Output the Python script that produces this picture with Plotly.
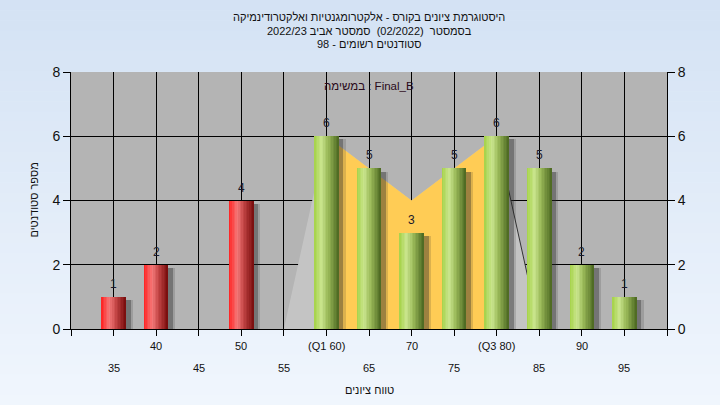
import plotly.graph_objects as go

# ---------------- data ----------------
scores = [35, 40, 45, 50, 55, 60, 65, 70, 75, 80, 85, 90, 95]
counts = [1, 2, 0, 4, 0, 6, 5, 3, 5, 6, 5, 2, 1]
tick_labels = ["35", "40", "45", "50", "55", "(Q1 60)", "65", "70", "75",
               "(Q3 80)", "85", "90", "95"]
pass_mark = 56

# interquartile (yellow) band and overall range (light grey) polygon
iqr_x = [60, 70, 80]
iqr_y = [6, 4, 6]
range_x = [55, 60, 70, 80, 85]
range_y = [0, 6, 4, 6, 0]
edge_x = [80, 85]
edge_y = [6, 0]

title_lines = [
    "היסטוגרמת ציונים בקורס - אלקטרומגנטיות ואלקטרודינמיקה",
    "בסמסטר  (02/2022)  סמסטר אביב 2022/23",
    "סטודנטים רשומים - 98",
]
task_label = "במשימה : Final_B"
x_title = "טווח ציונים"
y_title = "מספר סטודנטים"

# ---------------- styling helpers ----------------
W, H = 720, 405
ML, MR, MT, MB = 71, 53, 72, 76
FONT = "Liberation Sans, Arial, sans-serif"


def hex2rgb(h):
    h = h.lstrip("#")
    return tuple(int(h[i:i + 2], 16) for i in (0, 2, 4))


def interp(stops, t):
    for (p0, c0), (p1, c1) in zip(stops, stops[1:]):
        if p0 <= t <= p1:
            f = (t - p0) / (p1 - p0) if p1 > p0 else 0
            a, b = hex2rgb(c0), hex2rgb(c1)
            return "rgb(%d,%d,%d)" % tuple(round(a[k] + (b[k] - a[k]) * f) for k in range(3))
    return stops[-1][1]


green_stops = [(0.0, "#A4D246"), (0.3, "#CAE58F"), (0.55, "#9CBB5A"), (1.0, "#4A6620")]
red_stops = [(0.0, "#FF1E1E"), (0.33, "#F47A7A"), (0.6, "#C24444"), (1.0, "#760A0A")]

fig = go.Figure()

# ---- main subplot (x, y): area shading, drawn beneath the bars ----
fig.add_trace(go.Scatter(x=range_x, y=range_y, fill="toself", mode="lines",
                         line=dict(width=0), fillcolor="#C4C4C4",
                         hoverinfo="skip", showlegend=False))
fig.add_trace(go.Scatter(x=iqr_x, y=iqr_y, fill="tozeroy", mode="lines",
                         line=dict(width=0), fillcolor="#FFCC55",
                         hoverinfo="skip", showlegend=False))
fig.add_trace(go.Scatter(x=edge_x, y=edge_y, mode="lines",
                         line=dict(width=1, color="#333333"),
                         hoverinfo="skip", showlegend=False))

# ---- overlay subplot (x, y2): bars ----
BW = 2.9  # bar width in x units
for dx, col in [(0.8, "rgba(40,40,40,0.16)"), (0.55, "rgba(40,40,40,0.35)")]:
    fig.add_trace(go.Bar(x=scores, y=[max(c - 0.1, 0) for c in counts], yaxis="y2",
                         width=BW, offset=-BW / 2 + dx,
                         marker=dict(color=col, line=dict(width=0)),
                         hoverinfo="skip", showlegend=False))

N = 16
for i in range(N):
    t = (i + 0.5) / N
    cols = [interp(red_stops, t) if s < pass_mark else interp(green_stops, t) for s in scores]
    wid = BW / N * (1.3 if i < N - 1 else 1.0)
    fig.add_trace(go.Bar(x=scores, y=counts, yaxis="y2", width=wid,
                         offset=-BW / 2 + i * BW / N,
                         marker=dict(color=cols, line=dict(width=0)),
                         hoverinfo="skip", showlegend=False))

# ---------------- background gradient (paper) ----------------
shapes = []
pw, ph = W - ML - MR, H - MT - MB
x0p, x1p = -ML / pw, 1 + MR / pw
y0p, y1p = -MB / ph, 1 + MT / ph
NB = 40
top, bot = hex2rgb("#D4E2F4"), hex2rgb("#F0F6FD")
for k in range(NB):
    f = k / (NB - 1)
    c = "rgb(%d,%d,%d)" % tuple(round(top[j] + (bot[j] - top[j]) * f) for j in range(3))
    ya = y1p - (y1p - y0p) * k / NB
    yb = y1p - (y1p - y0p) * (k + 1) / NB
    shapes.append(dict(type="rect", xref="paper", yref="paper", x0=x0p, x1=x1p,
                       y0=yb - 0.002, y1=ya, fillcolor=c, line=dict(width=0), layer="below"))
shapes.append(dict(type="rect", xref="paper", yref="paper", x0=0, x1=1, y0=0, y1=1,
                   fillcolor="#B4B4B4", line=dict(width=0), layer="below"))

# ---------------- annotations ----------------
ann = []
for s, c in zip(scores, counts):
    if c > 0:
        ann.append(dict(x=s, y=c, xref="x", yref="y", text=str(c), showarrow=False,
                        yanchor="middle", yshift=13,
                        font=dict(size=12, color="#1a1a2a", family=FONT)))
for i, (s, lab) in enumerate(zip(scores, tick_labels)):
    ann.append(dict(x=s, y=0, xref="x", yref="paper", text=lab, showarrow=False,
                    yanchor="middle", yshift=-17 if i % 2 == 1 else -39,
                    font=dict(size=11, color="#111111", family=FONT)))
ann.append(dict(x=0.5, y=0, xref="paper", yref="paper", text=x_title, showarrow=False,
                yanchor="middle", yshift=-61, font=dict(size=11, color="#111111", family=FONT)))
ann.append(dict(x=0, y=0.5, xref="paper", yref="paper", text=y_title, showarrow=False,
                textangle=-90, xanchor="center", yanchor="middle", xshift=-38,
                font=dict(size=11, color="#111111", family=FONT)))
for j, line in enumerate(title_lines):
    ann.append(dict(x=0.5, y=1, xref="paper", yref="paper", text=line, showarrow=False,
                    yanchor="middle", yshift=55 - j * 13.5,
                    font=dict(size=11, color="#111111", family=FONT)))
ann.append(dict(x=0.5, y=1, xref="paper", yref="paper", text=task_label, showarrow=False,
                yanchor="middle", yshift=-14, font=dict(size=11.5, color="#2a0a1a", family=FONT)))

axis_common = dict(showline=True, linecolor="black", linewidth=1, ticks="outside",
                   tickcolor="black", zeroline=False)

fig.update_layout(
    width=W, height=H,
    margin=dict(l=ML, r=MR, t=MT, b=MB, pad=0),
    paper_bgcolor="#EEF4FC",
    plot_bgcolor="rgba(0,0,0,0)",
    barmode="overlay",
    bargap=0,
    showlegend=False,
    font=dict(family=FONT, color="#111111"),
    xaxis=dict(range=[30, 100], tickvals=list(range(30, 101, 5)), showticklabels=False,
               ticklen=6, showgrid=True, gridcolor="black", gridwidth=1, **axis_common),
    yaxis=dict(range=[0, 8], dtick=2, ticklen=7, showgrid=True, gridcolor="black",
               gridwidth=1, tickfont=dict(size=14, family=FONT, color="#111111"),
               **axis_common),
    yaxis2=dict(range=[0, 8], dtick=2, ticklen=7, overlaying="y", side="right",
                showgrid=False, tickfont=dict(size=14, family=FONT, color="#111111"),
                **axis_common),
    shapes=shapes,
    annotations=ann,
)

fig.write_html("out.html", config={"displayModeBar": False},
               post_script="document.body.style.margin='0px';")
